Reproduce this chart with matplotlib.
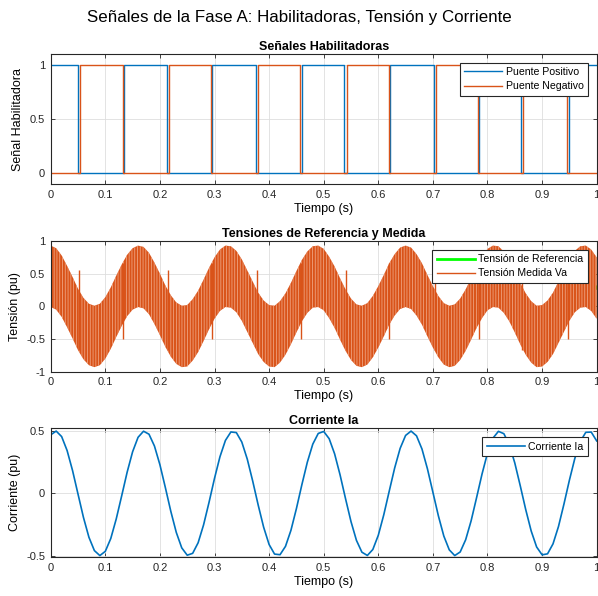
import numpy as np
import matplotlib
matplotlib.use("Agg")
import matplotlib.pyplot as plt

plt.rcParams['font.family'] = ['Liberation Sans', 'DejaVu Sans']
plt.rcParams['hatch.linewidth'] = 0.6

# enabling signals: switching instants (s) and levels (steps-post)
pos_t = [0.0, 0.050, 0.134, 0.213, 0.296, 0.376, 0.460, 0.538, 0.622, 0.702, 0.785, 0.862, 0.949, 1.0]
pos_v = [1, 0, 1, 0, 1, 0, 1, 0, 1, 0, 1, 0, 1, 1]
neg_t = [0.0, 0.053, 0.132, 0.216, 0.293, 0.379, 0.457, 0.542, 0.619, 0.705, 0.783, 0.865, 0.946, 1.0]
neg_v = [0, 1, 0, 1, 0, 1, 0, 1, 0, 1, 0, 1, 0, 0]

# sampled every 10 ms
t = np.linspace(0.0, 1.0, 101)

v_ref = [0.46, 0.42, 0.31, 0.15, -0.02, -0.20, -0.34, -0.43, -0.46, -0.43,
         -0.33, -0.18, 0.00, 0.17, 0.32, 0.42, 0.46, 0.44, 0.35, 0.20,
         0.03, -0.15, -0.30, -0.41, -0.46, -0.45, -0.36, -0.23, -0.06, 0.12,
         0.28, 0.40, 0.46, 0.45, 0.38, 0.25, 0.08, -0.09, -0.26, -0.38,
         -0.45, -0.46, -0.39, -0.27, -0.11, 0.07, 0.24, 0.37, 0.45, 0.46,
         0.41, 0.29, 0.14, -0.04, -0.21, -0.35, -0.44, -0.46, -0.42, -0.31,
         -0.16, 0.01, 0.19, 0.33, 0.43, 0.46, 0.43, 0.33, 0.19, 0.01,
         -0.16, -0.31, -0.42, -0.46, -0.44, -0.35, -0.21, -0.04, 0.14, 0.29,
         0.41, 0.46, 0.45, 0.37, 0.24, 0.07, -0.11, -0.27, -0.39, -0.46,
         -0.45, -0.38, -0.26, -0.09, 0.08, 0.25, 0.38, 0.45, 0.46, 0.40,
         0.28]

# measured (PWM) voltage: upper and lower edges of the switching band
va_upper = [0.93, 0.89, 0.78, 0.62, 0.45, 0.27, 0.13, 0.04, 0.01, 0.04,
            0.14, 0.29, 0.47, 0.64, 0.79, 0.89, 0.93, 0.91, 0.82, 0.67,
            0.50, 0.32, 0.17, 0.06, 0.01, 0.02, 0.11, 0.24, 0.41, 0.59,
            0.75, 0.87, 0.93, 0.92, 0.85, 0.72, 0.55, 0.38, 0.21, 0.09,
            0.02, 0.01, 0.08, 0.20, 0.36, 0.54, 0.71, 0.84, 0.92, 0.93,
            0.88, 0.76, 0.61, 0.43, 0.26, 0.12, 0.03, 0.01, 0.05, 0.16,
            0.31, 0.48, 0.66, 0.80, 0.90, 0.93, 0.90, 0.80, 0.66, 0.48,
            0.31, 0.16, 0.05, 0.01, 0.03, 0.12, 0.26, 0.43, 0.61, 0.76,
            0.88, 0.93, 0.92, 0.84, 0.71, 0.54, 0.36, 0.20, 0.08, 0.01,
            0.02, 0.09, 0.21, 0.38, 0.55, 0.72, 0.85, 0.92, 0.93, 0.87,
            0.75]
va_lower = [-0.01, -0.05, -0.16, -0.32, -0.49, -0.67, -0.81, -0.90, -0.93, -0.90,
            -0.80, -0.65, -0.47, -0.30, -0.15, -0.05, -0.01, -0.03, -0.12, -0.27,
            -0.44, -0.62, -0.77, -0.88, -0.93, -0.92, -0.83, -0.70, -0.53, -0.35,
            -0.19, -0.07, -0.01, -0.02, -0.09, -0.22, -0.39, -0.56, -0.73, -0.85,
            -0.92, -0.93, -0.86, -0.74, -0.58, -0.40, -0.23, -0.10, -0.02, -0.01,
            -0.06, -0.18, -0.33, -0.51, -0.68, -0.82, -0.91, -0.93, -0.89, -0.78,
            -0.63, -0.46, -0.28, -0.14, -0.04, -0.01, -0.04, -0.14, -0.28, -0.46,
            -0.63, -0.78, -0.89, -0.93, -0.91, -0.82, -0.68, -0.51, -0.33, -0.18,
            -0.06, -0.01, -0.02, -0.10, -0.23, -0.40, -0.58, -0.74, -0.86, -0.93,
            -0.92, -0.85, -0.73, -0.56, -0.39, -0.22, -0.09, -0.02, -0.01, -0.07,
            -0.19]

# long pulses at the bridge changeovers
spike_t = [0.051, 0.133, 0.214, 0.295, 0.378, 0.458, 0.540, 0.620, 0.703, 0.784, 0.864, 0.947]
spike_lo = [-0.66, -0.50, -0.66, -0.50, -0.66, -0.50, -0.66, -0.50, -0.66, -0.50, -0.66, -0.50]
spike_hi = [0.55, 0.66, 0.55, 0.66, 0.55, 0.66, 0.55, 0.66, 0.55, 0.66, 0.55, 0.66]

i_a = [0.470, 0.500, 0.456, 0.344, 0.183, -0.006, -0.194, -0.353, -0.460, -0.500,
       -0.466, -0.363, -0.206, -0.020, 0.170, 0.334, 0.450, 0.499, 0.475, 0.380,
       0.230, 0.046, -0.145, -0.314, -0.438, -0.497, -0.482, -0.397, -0.253, -0.072,
       0.120, 0.294, 0.425, 0.493, 0.488, 0.412, 0.275, 0.098, -0.094, -0.272,
       -0.411, -0.488, -0.493, -0.426, -0.297, -0.123, 0.069, 0.250, 0.395, 0.481,
       0.497, 0.439, 0.317, 0.148, -0.043, -0.227, -0.378, -0.473, -0.499, -0.451,
       -0.337, -0.173, 0.017, 0.204, 0.361, 0.465, 0.500, 0.462, 0.356, 0.197,
       0.009, -0.180, -0.343, -0.454, -0.500, -0.471, -0.373, -0.221, -0.035, 0.155,
       0.323, 0.443, 0.498, 0.479, 0.390, 0.244, 0.061, -0.130, -0.302, -0.431,
       -0.494, -0.486, -0.406, -0.267, -0.087, 0.105, 0.281, 0.416, 0.490, 0.492,
       0.421]

blue = '#0072BD'
orange = '#D95319'

fig = plt.figure(figsize=(5.98, 5.96), dpi=100)
ax1 = fig.add_axes([0.0848, 0.6908, 0.9130, 0.2186])
ax2 = fig.add_axes([0.0848, 0.3763, 0.9130, 0.2193])
ax3 = fig.add_axes([0.0848, 0.0649, 0.9130, 0.2164])

fig.suptitle('Señales de la Fase A: Habilitadoras, Tensión y Corriente', fontsize=12.2, y=0.984)

ax1.plot(pos_t, pos_v, drawstyle='steps-post', color=blue, lw=1, label='Puente Positivo')
ax1.plot(neg_t, neg_v, drawstyle='steps-post', color=orange, lw=1, label='Puente Negativo')
ax1.set_ylim(-0.1, 1.1)
ax1.set_yticks([0, 0.5, 1])
ax1.set_yticklabels(['0', '0.5', '1'])
ax1.set_title('Señales Habilitadoras', fontsize=9, fontweight='bold', pad=3)
ax1.set_ylabel('Señal Habilitadora', fontsize=9)

ax2.plot(t, v_ref, color='#00FF00', lw=2, label='Tensión de Referencia', zorder=1)
ax2.fill_between(t, va_lower, va_upper, facecolor=orange, edgecolor='#EFA27F',
                 hatch='||||||', lw=0, zorder=2)
ax2.vlines(spike_t, spike_lo, spike_hi, color=orange, lw=1, zorder=2)
ax2.plot([], [], color=orange, lw=1, label='Tensión Medida Va')
ax2.set_ylim(-1, 1)
ax2.set_yticks([-1, -0.5, 0, 0.5, 1])
ax2.set_yticklabels(['-1', '-0.5', '0', '0.5', '1'])
ax2.set_title('Tensiones de Referencia y Medida', fontsize=9, fontweight='bold', pad=3)
ax2.set_ylabel('Tensión (pu)', fontsize=9)

ax3.plot(t, i_a, color=blue, lw=1.2, label='Corriente Ia')
ax3.set_ylim(-0.514, 0.522)
ax3.set_yticks([-0.5, 0, 0.5])
ax3.set_yticklabels(['-0.5', '0', '0.5'])
ax3.set_title('Corriente Ia', fontsize=9, fontweight='bold', pad=3)
ax3.set_ylabel('Corriente (pu)', fontsize=9)

xt = [0, 0.1, 0.2, 0.3, 0.4, 0.5, 0.6, 0.7, 0.8, 0.9, 1]
for ax in (ax1, ax2, ax3):
    ax.set_xlim(0, 1)
    ax.set_xticks(xt)
    ax.set_xticklabels(['0', '0.1', '0.2', '0.3', '0.4', '0.5', '0.6', '0.7', '0.8', '0.9', '1'])
    ax.set_xlabel('Tiempo (s)', fontsize=9, labelpad=2)
    ax.grid(True, color='#dedede', lw=0.6)
    ax.set_axisbelow(True)
    ax.tick_params(direction='in', top=True, right=True, length=3, width=0.6,
                   labelsize=8, colors='#262626', pad=4)
    for s in ax.spines.values():
        s.set_color('#262626')
        s.set_linewidth(0.8)
    leg = ax.legend(loc='upper right', fontsize=7.6, fancybox=False, framealpha=1,
                    edgecolor='#262626', borderaxespad=0.85, handlelength=3.6,
                    borderpad=0.4, labelspacing=0.4, handletextpad=0.35)
    leg.get_frame().set_linewidth(0.8)

fig.savefig('out.png', dpi=100)
